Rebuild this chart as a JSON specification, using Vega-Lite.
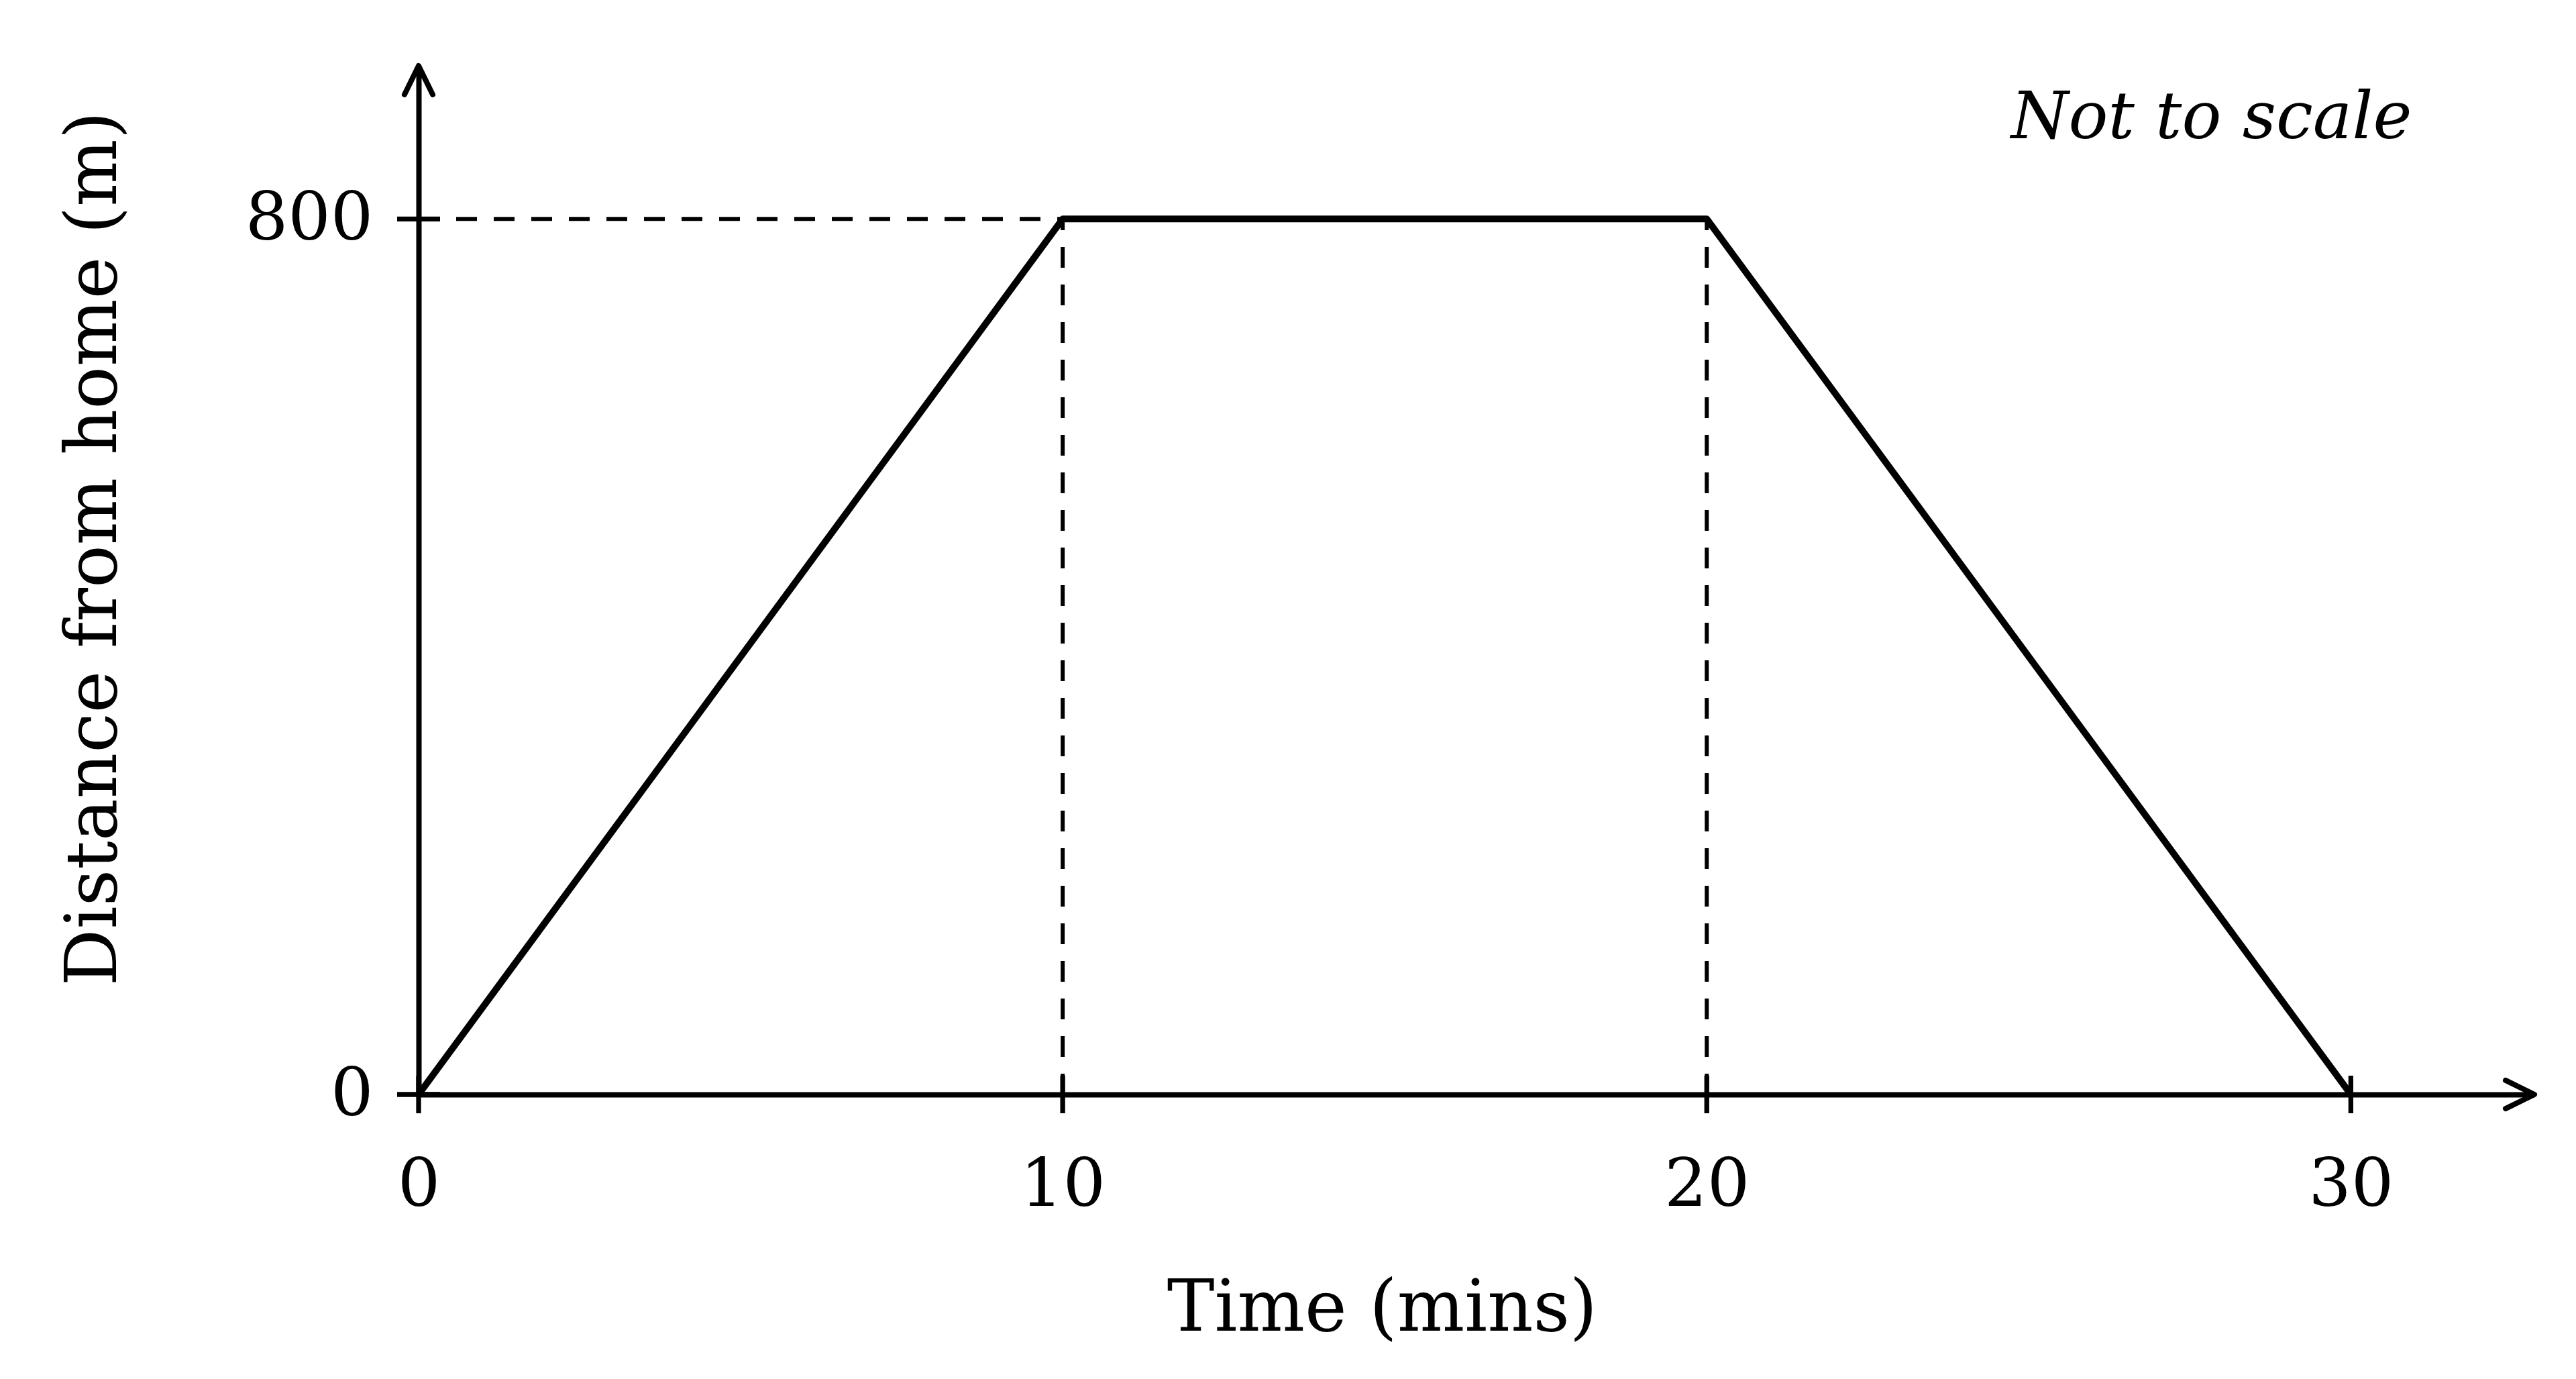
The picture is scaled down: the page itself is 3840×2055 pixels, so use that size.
{
  "$schema": "https://vega.github.io/schema/vega-lite/v6.json",
  "description": "Distance-time graph: walk from home, stay, walk back.",
  "autosize": {"type": "none"},
  "padding": {"left": 624, "top": 98, "right": 62, "bottom": 424},
  "width": 3154,
  "height": 1533,
  "background": "white",
  "config": {
    "view": {"stroke": null},
    "font": "DejaVu Serif",
    "axis": {
      "grid": false,
      "ticks": false,
      "tickSize": 0,
      "domainColor": "black",
      "domainWidth": 8,
      "labelColor": "black",
      "labelFont": "DejaVu Serif",
      "labelFontSize": 100,
      "labelLimit": 0,
      "labelFlush": false,
      "labelOverlap": false,
      "titleColor": "black",
      "titleFont": "DejaVu Serif",
      "titleFontSize": 106,
      "titleFontWeight": "normal"
    }
  },
  "datasets": {
    "path": [
      {"x": 0, "y": 0},
      {"x": 10, "y": 800},
      {"x": 20, "y": 800},
      {"x": 30, "y": 0}
    ],
    "guides": [
      {"x": 0, "y": 800, "x2": 10, "y2": 800},
      {"x": 10, "y": 0, "x2": 10, "y2": 800},
      {"x": 20, "y": 0, "x2": 20, "y2": 800}
    ],
    "xticks": [
      {"x": 0, "y": 0},
      {"x": 10, "y": 0},
      {"x": 20, "y": 0},
      {"x": 30, "y": 0}
    ],
    "yticks": [
      {"x": 0, "y": 0},
      {"x": 0, "y": 800}
    ],
    "arrows": [
      {"x": 32.85, "y": 0, "dir": "right"},
      {"x": 0, "y": 940, "dir": "up"}
    ],
    "note": [
      {"x": 30.95, "y": 874, "label": "Not to scale"}
    ]
  },
  "encoding": {
    "x": {
      "field": "x",
      "type": "quantitative",
      "scale": {"domain": [0, 32.85], "nice": false, "zero": false},
      "axis": {
        "values": [0, 10, 20, 30],
        "labelPadding": 86,
        "labelBaseline": "top",
        "title": "Time (mins)",
        "titleBaseline": "alphabetic",
        "titleAnchor": "middle",
        "titleAlign": "center",
        "titleX": 1436,
        "titleY": 351
      }
    },
    "y": {
      "field": "y",
      "type": "quantitative",
      "scale": {"domain": [0, 940], "nice": false, "zero": false},
      "axis": {
        "values": [0, 800],
        "labelPadding": 68,
        "title": "Distance from home (m)",
        "titleBaseline": "alphabetic",
        "titleX": -452,
        "titleY": 719
      }
    }
  },
  "layer": [
    {
      "data": {"name": "guides"},
      "mark": {"type": "rule", "color": "black", "strokeWidth": 6, "strokeDash": [31, 25]},
      "encoding": {
        "x2": {"field": "x2"},
        "y2": {"field": "y2"}
      }
    },
    {
      "data": {"name": "path"},
      "mark": {"type": "line", "color": "black", "strokeWidth": 10, "strokeJoin": "round", "strokeCap": "round"}
    },
    {
      "data": {"name": "xticks"},
      "mark": {"type": "tick", "orient": "vertical", "color": "black", "size": 56, "thickness": 7.3, "opacity": 1}
    },
    {
      "data": {"name": "yticks"},
      "mark": {"type": "tick", "orient": "horizontal", "color": "black", "size": 64, "thickness": 7.3, "opacity": 1}
    },
    {
      "data": {"name": "arrows"},
      "mark": {"type": "point", "filled": false, "color": "black", "strokeWidth": 8, "strokeCap": "round", "strokeJoin": "round", "size": 7396, "opacity": 1},
      "encoding": {
        "shape": {
          "field": "dir",
          "type": "nominal",
          "scale": {
            "domain": ["right", "up"],
            "range": ["M -1 -0.49 L 0 0 L -1 0.49", "M -0.49 1 L 0 0 L 0.49 1"]
          },
          "legend": null
        }
      }
    },
    {
      "data": {"name": "note"},
      "mark": {"type": "text", "align": "right", "baseline": "alphabetic", "font": "DejaVu Serif", "fontStyle": "italic", "fontSize": 98, "color": "black"},
      "encoding": {
        "text": {"field": "label"}
      }
    }
  ]
}
